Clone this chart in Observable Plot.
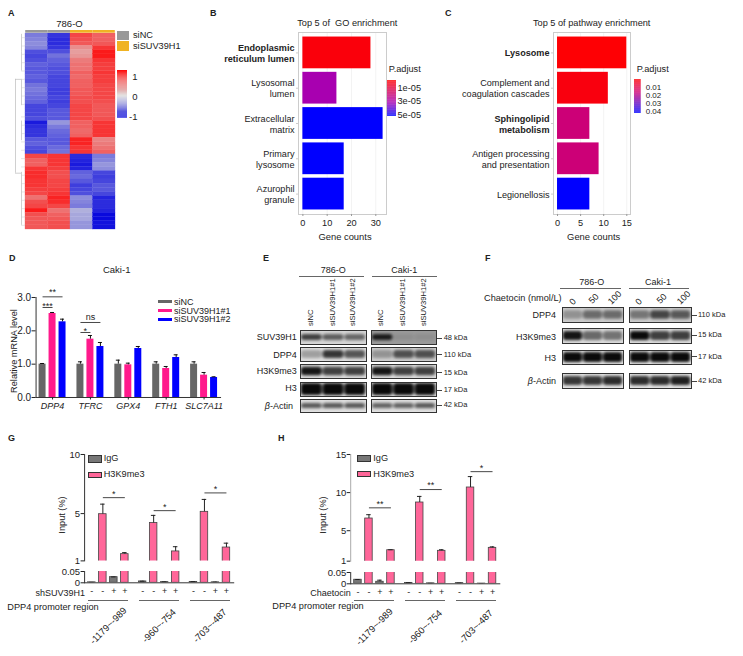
<!DOCTYPE html>
<html><head><meta charset="utf-8">
<script src="https://cdn.jsdelivr.net/npm/d3@7"></script>
<script src="https://cdn.jsdelivr.net/npm/@observablehq/plot@0.6"></script>
<style>
html,body{margin:0;padding:0;background:#fff}
#stage{position:relative;width:743px;height:656px;overflow:hidden;font-family:"Liberation Sans",Arial,sans-serif;color:#222}
.t{position:absolute;white-space:nowrap;line-height:1}
.r{position:absolute}
</style></head><body><div id="stage"></div>
<script>
// ---------- A heatmap ----------
const heatColumns = ["siNC_1","siNC_2","siSUV_1","siSUV_2"];
const heatNC1 = [-.55,-.5,-.45,-.5,-.8,-.85,-.8,-.7,-.75,-.75,-.7,-.75,-.6,-.55,-.6,-.65,-.7,-.85,-.85,-.85,-.8,-1.1,-1,-.95,-.95,-.75,-.7,-.8,-.85,.85,.7,.7,.95,1,1,.95,.95,.9,.85,.6,.8,.85,1.1,.8,.75,.75,.75];
const heatNC2 = [-.95,-1,-1,-.95,-.8,-.6,-.7,-.75,-.8,-.8,-.85,-.85,-.85,-.9,-.9,-.85,-.9,-.85,-.75,-.75,-.75,-.4,-.55,-.65,-.7,-.75,-.75,-.65,-.6,.95,.95,.95,.9,.8,.8,.85,.85,.9,.95,1.05,1,.85,.6,.7,.75,.8,.8];
const heatSi1 = [.85,.8,.75,.45,.35,.4,.55,.6,.6,.7,.65,.7,.7,.75,.75,.8,.8,.85,.85,.85,.85,.7,.7,.65,.7,1.05,1.05,.95,.95,-1,-1.05,-1.1,-1.05,-.7,-.65,-.75,-.9,-.85,-.8,-.45,-.5,-.55,-.25,-.3,-.3,-.4,-.4];
const heatSi2 = [.7,.7,.75,.95,1.1,1.1,.95,.9,.9,.95,.9,.9,.85,.85,.85,.85,.8,.75,.75,.75,.8,.95,.95,.95,.95,.5,.55,.6,.7,-.55,-.5,-.4,-.45,-.85,-.9,-.85,-.75,-.75,-.85,-1.05,-1,-1,-1.05,-1.2,-1.2,-1.15,-1.15];
const dendroRoot = {h:1, from:13.5, to:36};
const dendroBranches = [{h:.4,from:1,to:13.7},{h:.4,from:21.3,to:26},{h:.4,from:29.7,to:36},{h:.4,from:38,to:42.5},{h:.4,from:42.5,to:46.8}];
const dendroLeaves = [1,3,5,7,9,11,13,15,17,19,21,23,25,27,30,32,34,36,38,40,42,44,46];
// ---------- B / C enrichment ----------
const goTerms = ["Endoplasmic\nreticulum lumen","Lysosomal\nlumen","Extracellular\nmatrix","Primary\nlysosome","Azurophil\ngranule"];
const goBold = ["Endoplasmic\nreticulum lumen"];
const goCounts = [28,14,33,17,17];
const goP = [0.2e-5,3.2e-5,5.2e-5,5.2e-5,5.2e-5];
const pathTerms = ["Lysosome","Complement and\ncoagulation cascades","Sphingolipid\nmetabolism","Antigen processing\nand presentation","Legionellosis"];
const pathBold = ["Lysosome","Sphingolipid\nmetabolism"];
const pathCounts = [15,11,7,9,7];
const pathP = [0.0005,0.002,0.017,0.017,0.042];
// ---------- D qPCR ----------
const genes = ["DPP4","TFRC","GPX4","FTH1","SLC7A11"];
const siSeries = ["siNC","siSUV39H1#1","siSUV39H1#2"];
const siColors = ["#666666","#ff1a8c","#0000ff"];
const mrnaNC = [1,1,1,1,1], mrnaNCTop = [1.02,1.07,1.12,1.07,1.07];
const mrnaSi1 = [2.52,1.75,.98,.87,.67], mrnaSi1Top = [2.55,1.86,1.03,.93,.75];
const mrnaSi2 = [2.27,1.53,1.47,1.2,.6], mrnaSi2Top = [2.35,1.65,1.53,1.28,.62];
const mrnaBrackets = [
 {group:"DPP4",a:0,b:2,y:3.02,label:"**"},{group:"DPP4",a:0,b:1,y:2.7,label:"***"},
 {group:"TFRC",a:0,b:2,y:2.25,label:"ns"},{group:"TFRC",a:0,b:1,y:1.95,label:"*"}];
// ---------- G / H ChIP ----------
const regions = ["-1179~-989","-960~-754","-703~-487"];
const chipSeries = ["IgG -","H3K9me3 -","IgG +","H3K9me3 +"];
const gIgG = [.002,.025,.006,.003,.004,.002], gIgGTop = [.002,.026,.007,.004,.005,.003];
const gMe3 = [4.95,1.57,4.2,1.8,5.15,2.13], gMe3Top = [5.8,1.7,4.85,2.2,6.2,2.5];
const gStars = [{r:0,y:6.35,label:"*"},{r:1,y:5.25,label:"*"},{r:2,y:6.75,label:"*"}];
const hIgG = [.018,.009,.004,.002,.003,.001], hIgGTop = [.019,.016,.005,.002,.003,.001];
const hMe3 = [6.6,2.44,8.7,2.36,10.67,2.75], hMe3Top = [7.1,2.5,9.5,2.5,12.1,2.88];
const hStars = [{r:0,y:8.0,label:"**"},{r:1,y:10.4,label:"**"},{r:2,y:12.75,label:"*"}];
// ---------- E / F blots: band darkness per lane ----------
const eRows = ["SUV39H1","DPP4","H3K9me3","H3","<i>β</i>-Actin"];
const eKda = ["48 kDa","110 kDa","15 kDa","17 kDa","42 kDa"];
const e786 = [[.75,.6,.55],[.3,.8,.65],[.95,.75,.75],[1,1,1],[.65,.65,.65]];
const eCaki = [[.9,.08,.08],[.3,.65,.65],[.95,.75,.75],[1,1,1],[.6,.6,.65]];
const fRows = ["DPP4","H3K9me3","H3","<i>β</i>-Actin"];
const fKda = ["110 kDa","15 kDa","17 kDa","42 kDa"];
const f786 = [[.3,.5,.5],[.95,.55,.5],[1,1,1],[.8,.8,.85]];
const fCaki = [[.45,.7,.6],[1,.75,.75],[1,1,1],[.85,.85,.9]];
const fDoses = ["0","50","100"];

// ---------- helpers ----------
const FONT = '"Liberation Sans",Arial,sans-serif';
const stage = document.getElementById("stage");
function place(cfg, {x0,x1,y0,y1,l=0,r=0,t=0,b=0}) {
  const el = Plot.plot({...cfg, width:x1-x0+l+r, height:y1-y0+t+b, marginLeft:l, marginRight:r, marginTop:t, marginBottom:b,
    style:{position:"absolute",left:`${x0-l}px`,top:`${y0-t}px`,background:"transparent",overflow:"visible",maxWidth:"none",fontFamily:FONT,fontSize:"9px",color:"#222"}});
  stage.appendChild(el); return el;
}
function txt(s,x,y,{anchor="start",size=9,bold=false,rot=0}={}) {
  const e=document.createElement("div"); e.className="t"; e.innerHTML=s;
  const ax={start:"0",middle:"-50%",end:"-100%"}[anchor];
  e.style.cssText=`left:${x}px;top:${y}px;font-size:${size}px;${bold?"font-weight:bold;":""}transform:translate(${ax},-50%)${rot?` rotate(${rot}deg)`:""};`;
  stage.appendChild(e); return e;
}
function box(x1,y1,x2,y2,color,border) {
  const e=document.createElement("div"); e.className="r";
  e.style.cssText=`left:${x1}px;top:${y1}px;width:${x2-x1}px;height:${y2-y1}px;background:${color};${border?`border:.7px solid ${border};box-sizing:border-box;`:""}`;
  stage.appendChild(e);
}
function colorbar(color, dom, ticks, fmt, b, tickOpts={}) {
  const n=50, steps=d3.range(n);
  const v=i=>dom[0]+(dom[1]-dom[0])*i/n;
  place({x:{domain:[0,1],axis:null}, y:{domain:dom,axis:null}, color,
    marks:[Plot.rect(steps,{x1:0,x2:1,y1:v,y2:i=>v(i+1),fill:v}),
      Plot.axisY({anchor:"right",ticks,tickFormat:fmt,tickSize:0,label:null,fontSize:9.5,...tickOpts})]}, {...b,r:40});
}
function enrichment(terms,bold,counts,ps,xDom,xTicks,color,b) {
  const rows=terms.map((term,i)=>({term,count:counts[i],p:ps[i]}));
  const plain=terms.filter(t=>!bold.includes(t));
  place({x:{domain:xDom,axis:null},y:{domain:terms,padding:.1,round:false,axis:null,insetTop:1,insetBottom:1},color,
    marks:[Plot.gridX(xTicks,{stroke:"#000",strokeOpacity:.05}),
      Plot.barX(rows,{x:"count",y:"term",fill:"p"}),
      Plot.frame({stroke:"#ccc"}),
      Plot.axisX({ticks:xTicks,anchor:"bottom",tickSize:2,tickPadding:3,stroke:"#999",fontSize:9.2,label:null}),
      Plot.axisY({ticks:plain,anchor:"left",tickSize:2,tickPadding:2,stroke:"#ccc",fontSize:9.1,lineHeight:1.22,label:null}),
      Plot.axisY({ticks:bold,anchor:"left",tickSize:2,tickPadding:2,stroke:"#ccc",fontSize:9.1,fontWeight:"bold",lineHeight:1.22,label:null})]},{...b,l:100,b:20});
}
// bracket between two bars inside one facet, label centred over it
function bracketMarks(br,keys,pitch,offs=4,adjOffs=1.5) {
  return [
    Plot.link(br,{fx:"group",x1:d=>keys[d.a],x2:d=>keys[d.b],y1:"y",y2:"y",stroke:"#333",strokeWidth:.9}),
    Plot.text(br.filter(d=>(d.a+d.b)%2===0),{fx:"group",x:d=>keys[(d.a+d.b)/2],y:"y",text:"label",dy:-offs,fontSize:9,lineAnchor:"middle"}),
    Plot.text(br.filter(d=>(d.a+d.b)%2===1),{fx:"group",x:d=>keys[d.b],y:"y",text:"label",dx:-pitch/2,dy:-adjOffs,fontSize:9,lineAnchor:"middle"})
  ];
}

// ---------- panel letters ----------
[["A",8,13],["B",210,13],["C",445,13],["D",9,258],["E",263,258],["F",485,258],["G",8,438],["H",278,438]]
  .forEach(([s,x,y])=>txt(s,x,y,{bold:true,size:9}));

// ---------- A ----------
const heatColor={type:"linear",domain:[-1.25,0,1.25],range:["#0000dd","#dcdcdc","#ff0000"],clamp:true};
const heatRows=d3.range(heatNC2.length);
const heatLong=[heatNC1,heatNC2,heatSi1,heatSi2].flatMap((c,j)=>c.map((v,i)=>({col:heatColumns[j],row:i,v})));
txt("786-O",69.5,24,{anchor:"middle",size:9.5});
place({x:{domain:heatColumns,padding:0,round:false,axis:null},y:{domain:heatRows,padding:0,round:false,axis:null},color:heatColor,
  marks:[Plot.cell(heatLong,{x:"col",y:"row",fill:"v",stroke:"v",strokeWidth:.3})]},{x0:25,x1:115,y0:33,y1:229});
place({x:{domain:heatColumns,padding:0,round:false,axis:null},color:{type:"ordinal",domain:["siNC","siSUV39H1"],range:["#999999","#f0b323"]},
  marks:[Plot.cell(heatColumns,{x:d=>d,fill:d=>d.startsWith("siNC")?"siNC":"siSUV39H1"})]},{x0:25,x1:115,y0:30.3,y1:33});
place({x:{domain:[1,0],axis:null},y:{domain:[0,47],axis:null},
  marks:[Plot.ruleX([dendroRoot],{x:"h",y1:"from",y2:"to",stroke:"#bbb",strokeWidth:.7}),
    Plot.ruleY([dendroRoot.from,dendroRoot.to],{x1:1,x2:.4,stroke:"#bbb",strokeWidth:.7}),
    Plot.ruleX(dendroBranches,{x:"h",y1:"from",y2:"to",stroke:"#bbb",strokeWidth:.7}),
    Plot.ruleY(dendroLeaves,{x1:.4,x2:0,stroke:"#ccc",strokeWidth:.5})]},{x0:15,x1:25,y0:33,y1:229});
box(117,31,129,40,"#999999"); box(117,41,129,51,"#f0b323");
txt("siNC",133,36,{size:9.2}); txt("siSUV39H1",133,46.7,{size:9.2});
colorbar(heatColor,[-1.08,1.3],[-1,0,1],d=>String(d),{x0:117.3,x1:127.3,y0:70,y1:117.7},{textAnchor:"end",tickPadding:10});

// ---------- B ----------
const goColor={type:"linear",domain:[0,3.2e-5,5.2e-5],range:["#ff0000","#a800b0","#0000ff"],clamp:true};
txt("Top 5 of&nbsp; GO enrichment",347.3,24,{anchor:"middle",size:9.2});
enrichment(goTerms,goBold,goCounts,goP,[-1.8,34.4],[0,10,20,30],goColor,{x0:298,x1:386,y0:32,y1:214});
txt("Gene counts",345,236.7,{anchor:"middle",size:9.4});
txt("P.adjust",388.7,69.7,{size:9.2});
colorbar(goColor,[5.2e-5,-.08e-5],[1e-5,3e-5,5e-5],d=>d3.format(".0e")(d).replace("e-5","e-05"),{x0:387.3,x1:396.3,y0:80,y1:116},{tickPadding:1,fontSize:9.2});

// ---------- C ----------
const pathColor={type:"linear",domain:[0,.017,.042],range:["#ff0000","#cc0077","#0000ff"],clamp:true};
txt("Top 5 of pathway enrichment",591.7,24,{anchor:"middle",size:9.2});
enrichment(pathTerms,pathBold,pathCounts,pathP,[-.87,15.8],[0,5,10,15],pathColor,{x0:553,x1:630,y0:32,y1:214});
txt("Gene counts",593.7,236.7,{anchor:"middle",size:9.4});
txt("P.adjust",636.7,70,{size:9.2});
colorbar(pathColor,[.042,.0002],[.01,.02,.03,.04],d=>d.toFixed(2),{x0:634.3,x1:641,y0:79.3,y1:113.3},{tickPadding:4.5,fontSize:8});

// ---------- D ----------
const mrnaRows=genes.flatMap((group,i)=>[[mrnaNC,mrnaNCTop],[mrnaSi1,mrnaSi1Top],[mrnaSi2,mrnaSi2Top]].map(([v,t],j)=>({group,series:siSeries[j],v:v[i],top:t[i]})));
txt("Caki-1",116.7,270,{anchor:"middle",size:9.5});
txt("Relative mRNA level",15,351,{anchor:"middle",size:9.2,rot:-90});
place({fx:{domain:genes,paddingInner:.13,paddingOuter:.108,align:.68,round:false,axis:null},x:{domain:siSeries,padding:.3,round:false,axis:null},y:{domain:[0,3],axis:null},
  color:{type:"ordinal",domain:siSeries,range:siColors},
  marks:[
    Plot.frame({anchor:"left",facet:"super",stroke:"#333"}),
    Plot.axisY({ticks:[0,1,2,3],tickSize:4,tickPadding:1,fontSize:10,label:null}),
    Plot.barY(mrnaRows,{fx:"group",x:"series",y:"v",fill:"series"}),
    Plot.ruleX(mrnaRows,{fx:"group",x:"series",y1:"v",y2:"top",stroke:"#111",strokeWidth:1}),
    Plot.tickY(mrnaRows,{fx:"group",x:"series",y:"top",stroke:"#111",strokeWidth:1,insetLeft:1.5,insetRight:1.5}),
    Plot.frame({anchor:"bottom",facet:"super",stroke:"#333"}),
    ...bracketMarks(mrnaBrackets,siSeries,10.3,5,1),
    Plot.axisFx({anchor:"bottom",tickSize:2.5,tickPadding:3,fontStyle:"italic",fontSize:9,label:null})
  ]},{x0:30,x1:222.7,y0:297.3,y1:397.3,l:14,b:18,t:3});
siSeries.forEach((s,i)=>{const y=[301.7,310.5,319.3][i];box(157.7,y-1.7,171.7,y+1.7,siColors[i]);txt(s,174,y,{size:9});});

// ---------- E, F blots ----------
const eThick=[.22,.28,.3,.42,.2], eBg=["#d6d6d6","#e0e0e0","#dedede","#e2e2e2","#e0e0e0"], eBgC=["#9a9a9a","#cfcfcf","#dedede","#e2e2e2","#e0e0e0"];
const fThick=[.28,.3,.36,.3], fBg=["#cccccc","#dddddd","#e6e6e6","#e6e6e6"];
function strip(lanes,thick,bg,b){
  const rows=lanes.map((v,i)=>({lane:i,v}));
  place({x:{domain:lanes.map((_,i)=>i),padding:.04,round:false,axis:null},y:{domain:[0,1],axis:null},
    marks:[Plot.frame({fill:bg,stroke:"none"}),
      Plot.barY(rows,{x:"lane",y1:.5-thick,y2:.5+thick,rx:3,fill:"#0a0a0a",fillOpacity:"v",imageFilter:"blur(1.5px)",clip:"frame"}),
      Plot.frame({stroke:"#333",strokeWidth:1,strokeOpacity:1})]},b);
}
const eY=[[330,344],[347,361],[364,378],[382,396],[399,412]];
eY.forEach(([a,c],i)=>{
  strip(e786[i],eThick[i],eBg[i],{x0:300,x1:366,y0:a,y1:c});
  strip(eCaki[i],eThick[i],eBgC[i],{x0:371,x1:436,y0:a,y1:c});
});
txt("786-O",333.3,270,{anchor:"middle",size:9}); txt("Caki-1",404.3,270,{anchor:"middle",size:9});
box(299.3,276,364,276.8,"#666"); box(372.3,276,436.7,276.8,"#666");
["siNC","siSUV39H1#1","siSUV39H1#2","siNC","siSUV39H1#1","siSUV39H1#2"].forEach((s,i)=>{
  const x=[311,333.3,353.3,380.7,402.7,424.3][i];
  const e=txt(s,x,326,{size:7.6}); e.style.transformOrigin="0 50%"; e.style.transform="translateY(-50%) rotate(-90deg)";
});
[337,355,371,388,405.7].forEach((y,i)=>txt(eRows[i],i==4?293:296.7,y,{anchor:"end",size:9}));
[338,354.7,372.7,390,405.3].forEach((y,i)=>{box(437.3,y-.35,441.7,y+.35,"#444");txt(eKda[i],443.7,y,{size:7.5});});

const fY=[[307,322],[328,343],[350,364],[373,388]];
fY.forEach(([a,c],i)=>{
  strip(f786[i],fThick[i],fBg[i],{x0:562,x1:623,y0:a,y1:c});
  strip(fCaki[i],fThick[i],fBg[i],{x0:629,x1:691,y0:a,y1:c});
});
txt("786-O",591.7,281.7,{anchor:"middle",size:9}); txt("Caki-1",658,281.7,{anchor:"middle",size:9});
box(560,288,620.7,288.8,"#666"); box(629,288,689.3,288.8,"#666");
txt("Chaetocin (nmol/L)",484,299.3,{size:9.2});
[[572.7,301.7],[594,299.3],[615,298.3],[639.3,302],[661.7,299.3],[684,298]].forEach(([x,y],i)=>{
  txt(fDoses[i%3],x,y,{anchor:"middle",size:9,rot:-45});
});
[315.3,337.3,357.7,380.7].forEach((y,i)=>txt(fRows[i],556,y,{anchor:"end",size:9}));
[315,335.3,356.7,381.3].forEach((y,i)=>{box(692,y-.35,696.7,y+.35,"#444");txt(fKda[i],698,y,{size:7.5});});

// ---------- G, H ----------
function chip(igg,iggTop,me3,me3Top,stars,upperDomain,upperTicks,xr,yUp,y05,y0,axisColor){
  const rows=regions.flatMap((group,r)=>[0,1].flatMap(t=>[
    {group,series:chipSeries[2*t],v:igg[2*r+t],top:iggTop[2*r+t]},
    {group,series:chipSeries[2*t+1],v:me3[2*r+t],top:me3Top[2*r+t]}]));
  const br=stars.map(s=>({group:regions[s.r],a:1,b:3,y:s.y,label:s.label}));
  const fx={domain:regions,paddingInner:.065,paddingOuter:.0216,align:xr.align,round:false,axis:null};
  const x={domain:chipSeries,padding:.318,round:false,axis:null};
  const color={type:"ordinal",domain:["IgG","H3K9me3"],range:["#777777","#ff6699"]};
  const fillBy=d=>d.series.split(" ")[0];
  const barMarks=()=>[
    Plot.barY(rows,{fx:"group",x:"series",y1:0,y2:"v",fill:fillBy,stroke:"#444",strokeWidth:.8,clip:true}),
    Plot.ruleX(rows,{fx:"group",x:"series",y1:"v",y2:"top",stroke:"#222",strokeWidth:1,clip:true}),
    Plot.tickY(rows,{fx:"group",x:"series",y:"top",stroke:"#222",strokeWidth:1,insetLeft:1.5,insetRight:1.5,clip:true})];
  place({fx,x,y:{domain:upperDomain,axis:null},color,
    marks:[Plot.frame({anchor:"left",facet:"super",stroke:axisColor}),
      Plot.axisY({ticks:upperTicks,tickSize:3.5,tickPadding:1,fontSize:9.5,label:null}),
      ...barMarks(),
      ...bracketMarks(br,chipSeries,11,4)]},{x0:xr.x0,x1:xr.x1,y0:yUp[0],y1:yUp[1],l:22,t:6});
  place({fx,x,y:{domain:[0,.05],axis:null},color,
    marks:[Plot.frame({anchor:"left",facet:"super",stroke:"#333"}),
      Plot.axisY({ticks:[0,.05],tickFormat:d=>String(d),tickSize:3.5,tickPadding:1,fontSize:9.5,label:null}),
      ...barMarks(),
      Plot.frame({anchor:"bottom",facet:"super",stroke:"#333"}),
      Plot.axisX({anchor:"bottom",tickSize:0,tickPadding:5,tickFormat:k=>k.slice(-1),fontSize:9,label:null}),
      Plot.axisFx({anchor:"bottom",tickSize:0,tickPadding:43,tickRotate:-45,textAnchor:"middle",lineAnchor:"middle",fontSize:9.4,label:null})]},
    {x0:xr.x0,x1:xr.x1,y0:y05,y1:y0,l:22,b:70});
}
chip(gIgG,gIgGTop,gMe3,gMe3Top,gStars,[1,10],[1,5,10],{x0:82.7,x1:234,align:.5},[454.3,560.7],571,582.3,"#333");
box(88.3,455,102.3,462.7,"#777","#333"); box(88.3,471.7,102.3,478.3,"#ff6699","#333");
txt("IgG",103.7,458.7,{size:9.2}); txt("H3K9me3",103.7,475,{size:9.2});
txt("Input (%)",63.3,515,{anchor:"middle",size:9.2,rot:-90});
txt("shSUV39H1",85,593,{anchor:"end",size:9});
[[88.3,128.3],[139.3,179],[190,230]].forEach(([a,c])=>box(a,599.7,c,600.4,"#666"));
txt("DPP4 promoter region",7.3,608,{size:9.2});

chip(hIgG,hIgGTop,hMe3,hMe3Top,hStars,[1,15],[1,5,10,15],{x0:347.7,x1:499,align:1},[454.3,561],571.7,583,"#aaa");
box(357.3,455,371,461.7,"#777","#333"); box(357.3,470.7,371,476.7,"#ff6699","#333");
txt("IgG",373.3,458.7,{size:9.2}); txt("H3K9me3",373.3,474.7,{size:9.2});
txt("Input (%)",323.7,515,{anchor:"middle",size:9.2,rot:-90});
txt("Chaetocin",350.7,593,{anchor:"end",size:9});
[[354.3,394],[404.7,445],[455.7,495.7]].forEach(([a,c])=>box(a,599.7,c,600.4,"#666"));
txt("DPP4 promoter region",272.3,607.3,{size:9.2});
</script></body></html>
